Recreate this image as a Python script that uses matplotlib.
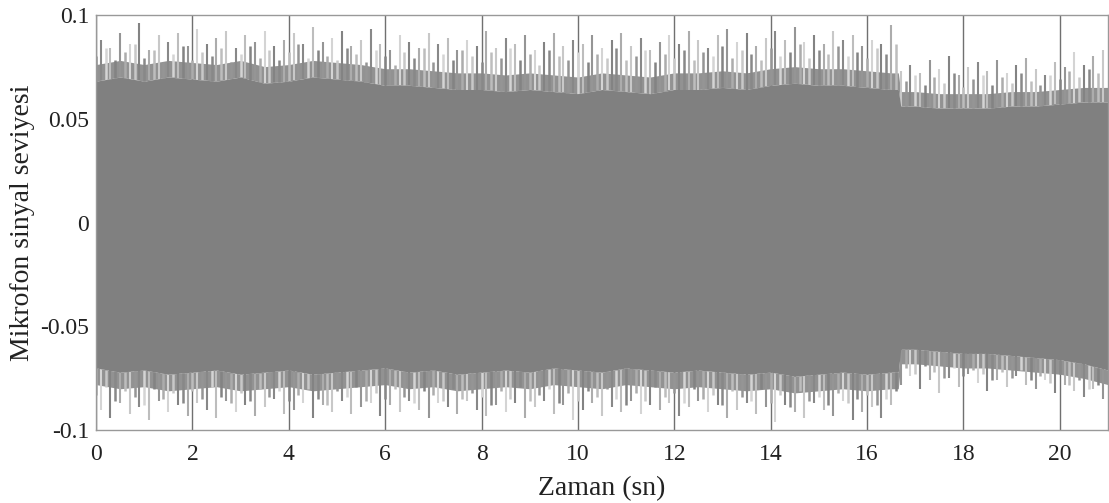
import numpy as np
import matplotlib
matplotlib.use("Agg")
import matplotlib.pyplot as plt

# ---------------- data ----------------
t_env = [0, 0.5, 1.0, 1.5, 2.0, 2.5, 3.0, 3.5, 4.0, 4.5, 5.0, 5.5, 6.0, 6.5, 7.0,
         7.5, 8.0, 8.5, 9.0, 9.5, 10.0, 10.5, 11.0, 11.5, 12.0, 12.5, 13.0, 13.5,
         14.0, 14.5, 15.0, 15.5, 16.0, 16.5, 16.65, 16.7, 17.0, 17.5, 18.0, 18.5,
         19.0, 19.5, 20.0, 20.5, 21.0]
upper_core = [0.068, 0.070, 0.068, 0.070, 0.069, 0.068, 0.070, 0.067, 0.068, 0.070,
              0.069, 0.068, 0.066, 0.066, 0.065, 0.064, 0.064, 0.063, 0.064, 0.063,
              0.062, 0.064, 0.063, 0.062, 0.064, 0.064, 0.065, 0.064, 0.066, 0.067,
              0.066, 0.066, 0.065, 0.064, 0.064, 0.056, 0.056, 0.055, 0.055, 0.055,
              0.056, 0.056, 0.057, 0.058, 0.058]
upper_fringe = [0.076, 0.078, 0.076, 0.078, 0.077, 0.076, 0.078, 0.075, 0.076, 0.078,
                0.077, 0.076, 0.074, 0.074, 0.073, 0.072, 0.072, 0.071, 0.072, 0.071,
                0.070, 0.072, 0.071, 0.070, 0.072, 0.072, 0.073, 0.072, 0.074, 0.075,
                0.074, 0.074, 0.073, 0.072, 0.072, 0.063, 0.063, 0.062, 0.062, 0.062,
                0.063, 0.063, 0.064, 0.065, 0.065]
lower_core = [-0.070, -0.072, -0.071, -0.073, -0.072, -0.071, -0.073, -0.072, -0.071, -0.073,
              -0.072, -0.071, -0.070, -0.072, -0.071, -0.073, -0.072, -0.071, -0.072, -0.070,
              -0.071, -0.072, -0.070, -0.071, -0.072, -0.071, -0.072, -0.073, -0.072, -0.074,
              -0.073, -0.072, -0.073, -0.072, -0.072, -0.061, -0.061, -0.062, -0.063, -0.063,
              -0.064, -0.065, -0.066, -0.068, -0.071]
lower_fringe = [-0.078, -0.080, -0.079, -0.081, -0.080, -0.079, -0.081, -0.080, -0.079, -0.081,
                -0.080, -0.079, -0.078, -0.080, -0.079, -0.081, -0.080, -0.079, -0.080, -0.078,
                -0.079, -0.080, -0.078, -0.079, -0.080, -0.079, -0.080, -0.081, -0.080, -0.082,
                -0.081, -0.080, -0.081, -0.080, -0.080, -0.068, -0.068, -0.069, -0.070, -0.070,
                -0.071, -0.072, -0.073, -0.075, -0.078]

# tall spikes, at t = 0.1, 0.3, ..., 20.9
t_spk = [round(0.1 + 0.2 * i, 2) for i in range(105)]
upper_spk = [0.088, 0.084, 0.091, 0.086, 0.096, 0.083, 0.090, 0.087, 0.091, 0.085,
             0.093, 0.086, 0.089, 0.092, 0.084, 0.090, 0.087, 0.092, 0.085, 0.088,
             0.091, 0.086, 0.094, 0.087, 0.089, 0.092, 0.085, 0.088, 0.093, 0.086,
             0.083, 0.090, 0.087, 0.084, 0.091, 0.086, 0.089, 0.083, 0.088, 0.085,
             0.092, 0.084, 0.089, 0.086, 0.090, 0.083, 0.087, 0.091, 0.085, 0.088,
             0.086, 0.090, 0.084, 0.088, 0.091, 0.085, 0.089, 0.083, 0.087, 0.090,
             0.086, 0.092, 0.088, 0.084, 0.090, 0.093, 0.087, 0.091, 0.085, 0.089,
             0.092, 0.088, 0.094, 0.087, 0.090, 0.086, 0.092, 0.088, 0.090, 0.085,
             0.088, 0.086, 0.095,
             0.073, 0.076, 0.072, 0.078, 0.074, 0.080, 0.071, 0.075, 0.077, 0.073,
             0.078, 0.072, 0.076, 0.079, 0.074, 0.071, 0.077, 0.075, 0.082, 0.076,
             0.080, 0.083]
lower_spk = [-0.090, -0.094, -0.087, -0.092, -0.089, -0.095, -0.086, -0.091, -0.088, -0.093,
             -0.087, -0.090, -0.094, -0.086, -0.091, -0.088, -0.093, -0.089, -0.085, -0.092,
             -0.090, -0.087, -0.094, -0.088, -0.091, -0.086, -0.092, -0.089, -0.087, -0.093,
             -0.088, -0.091, -0.086, -0.090, -0.094, -0.087, -0.089, -0.092, -0.086, -0.090,
             -0.093, -0.088, -0.091, -0.087, -0.094, -0.089, -0.086, -0.092, -0.088, -0.095,
             -0.090, -0.087, -0.093, -0.089, -0.091, -0.086, -0.092, -0.088, -0.090, -0.087,
             -0.093, -0.089, -0.086, -0.091, -0.088, -0.094, -0.090, -0.087, -0.092, -0.089,
             -0.096, -0.088, -0.091, -0.094, -0.087, -0.090, -0.093, -0.086, -0.095, -0.091,
             -0.089, -0.094, -0.088,
             -0.078, -0.074, -0.080, -0.076, -0.082, -0.075, -0.079, -0.073, -0.077, -0.081,
             -0.076, -0.079, -0.074, -0.078, -0.080, -0.076, -0.082, -0.078, -0.081, -0.084,
             -0.080, -0.085]

# shorter spikes, at t = 0.0, 0.2, ..., 20.8
t_spk2 = [round(0.2 * i, 2) for i in range(105)]
upper_spk2 = [0.080, 0.084, 0.078, 0.082, 0.086, 0.079, 0.083, 0.077, 0.081, 0.085,
              0.078, 0.082, 0.080, 0.084, 0.077, 0.081, 0.085, 0.079, 0.083, 0.078,
              0.082, 0.086, 0.079, 0.083, 0.080, 0.078, 0.084, 0.081, 0.077, 0.083,
              0.080, 0.076, 0.082, 0.079, 0.084, 0.077, 0.081, 0.078, 0.083, 0.080,
              0.077, 0.082, 0.079, 0.084, 0.078, 0.081, 0.076, 0.083, 0.080, 0.078,
              0.082, 0.077, 0.081, 0.079, 0.084, 0.078, 0.080, 0.083, 0.077, 0.081,
              0.079, 0.083, 0.078, 0.082, 0.080, 0.085, 0.079, 0.083, 0.081, 0.078,
              0.084, 0.080, 0.082, 0.086, 0.079, 0.083, 0.081, 0.085, 0.080, 0.082,
              0.079, 0.084, 0.081, 0.086,
              0.068, 0.071, 0.066, 0.070, 0.067, 0.072, 0.065, 0.069, 0.071, 0.066,
              0.070, 0.067, 0.072, 0.068, 0.066, 0.071, 0.069, 0.073, 0.070, 0.074,
              0.072]
lower_spk2 = [-0.083, -0.079, -0.086, -0.081, -0.084, -0.088, -0.080, -0.085, -0.082, -0.087,
              -0.081, -0.085, -0.079, -0.084, -0.087, -0.082, -0.086, -0.080, -0.084, -0.081,
              -0.086, -0.083, -0.080, -0.085, -0.088, -0.081, -0.084, -0.079, -0.086, -0.082,
              -0.085, -0.080, -0.084, -0.087, -0.081, -0.083, -0.086, -0.080, -0.085, -0.082,
              -0.084, -0.088, -0.081, -0.085, -0.079, -0.086, -0.083, -0.080, -0.087, -0.082,
              -0.086, -0.081, -0.084, -0.080, -0.085, -0.088, -0.082, -0.086, -0.079, -0.084,
              -0.082, -0.087, -0.080, -0.085, -0.083, -0.088, -0.081, -0.084, -0.086, -0.080,
              -0.087, -0.083, -0.089, -0.081, -0.086, -0.084, -0.088, -0.082, -0.087, -0.085,
              -0.083, -0.088, -0.085, -0.081,
              -0.070, -0.073, -0.069, -0.072, -0.075, -0.070, -0.074, -0.071, -0.073, -0.076,
              -0.072, -0.075, -0.071, -0.076, -0.074, -0.077, -0.073, -0.078, -0.076, -0.080,
              -0.078]

x_ticks = [0, 2, 4, 6, 8, 10, 12, 14, 16, 18, 20]
y_ticks = [-0.1, -0.05, 0, 0.05, 0.1]
y_ticklabels = ["-0.1", "-0.05", "0", "0.05", "0.1"]
x_label = "Zaman (sn)"
y_label = "Mikrofon sinyal seviyesi"

# ---------------- plot ----------------
plt.rcParams['font.family'] = ['Liberation Serif', 'DejaVu Serif']
fig = plt.figure(figsize=(11.09, 5.03), dpi=100)
ax = fig.add_axes([0.0866, 0.1445, 0.9124, 0.8263])

ax.set_xlim(0, 21)
ax.set_ylim(-0.1, 0.1)

ax.grid(True, axis='x', color='#707070', linewidth=1.0, zorder=0)
ax.set_axisbelow(True)

# fringe (dense thin lines region next to the core)
ax.fill_between(t_env, upper_core, upper_fringe, color='#929292', linewidth=0, zorder=1)
ax.fill_between(t_env, lower_fringe, lower_core, color='#929292', linewidth=0, zorder=1)

# spikes
shades = ['#888888', '#bdbdbd', '#959595', '#d4d4d4', '#838383', '#acacac', '#c8c8c8']
uc1 = np.interp(t_spk, t_env, upper_core)
lc1 = np.interp(t_spk, t_env, lower_core)
uc2 = np.interp(t_spk2, t_env, upper_core)
lc2 = np.interp(t_spk2, t_env, lower_core)
n = len(shades)
ax.vlines(t_spk2, uc2, upper_spk2, colors=[shades[(i + 2) % n] for i in range(len(t_spk2))],
          linewidth=1.8, zorder=2)
ax.vlines(t_spk2, lower_spk2, lc2, colors=[shades[(i + 5) % n] for i in range(len(t_spk2))],
          linewidth=1.8, zorder=2)
ax.vlines(t_spk, uc1, upper_spk, colors=[shades[i % n] for i in range(len(t_spk))],
          linewidth=1.5, zorder=2)
ax.vlines(t_spk, lower_spk, lc1, colors=[shades[(i + 3) % n] for i in range(len(t_spk))],
          linewidth=1.5, zorder=2)

# dense core
ax.fill_between(t_env, lower_core, upper_core, color='#808080', linewidth=0, zorder=3)

ax.set_xticks(x_ticks)
ax.set_yticks(y_ticks)
ax.set_yticklabels(y_ticklabels)
ax.tick_params(length=0, labelsize=17, colors='#222222')
ax.tick_params(axis='x', pad=10)
ax.tick_params(axis='y', pad=5)
for s in ax.spines.values():
    s.set_color('#999999')
    s.set_linewidth(1.0)
    s.set_zorder(5)

ax.set_xlabel(x_label, fontsize=20, color='#222222', labelpad=8)
ax.set_ylabel(y_label, fontsize=20, color='#222222', labelpad=4)

fig.savefig("out.png", dpi=100)
